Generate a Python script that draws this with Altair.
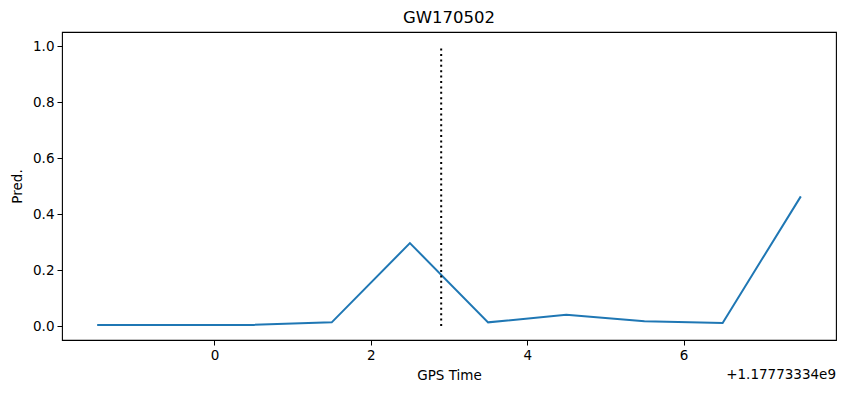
import altair as alt
import pandas as pd

# GPS time relative to offset 1.17773334e9
gps_time = [-1.5, -0.5, 0.5, 1.5, 2.5, 3.5, 4.5, 5.5, 6.5, 7.5]
pred = [0.004, 0.004, 0.004, 0.013, 0.296, 0.013, 0.040, 0.017, 0.011, 0.463]
event_time = [2.9]
x_ticks = [0, 2, 4, 6]
y_ticks = [0.0, 0.2, 0.4, 0.6, 0.8, 1.0]
offset_label = "+1.17773334e9"
title = "GW170502"

df = pd.DataFrame({"t": gps_time, "p": pred})
ev = pd.DataFrame({"t": event_time, "y0": [0.0], "y1": [1.0]})
off = pd.DataFrame({"label": [offset_label]})

FONT = "DejaVu Sans"
FS = 13.5

xscale = alt.Scale(domain=[-1.95, 7.95], nice=False, zero=False)
yscale = alt.Scale(domain=[-0.05, 1.05], nice=False, zero=False)

xaxis = alt.Axis(values=x_ticks, format="d", title="GPS Time", grid=False, domain=False,
                 tickColor="black", tickSize=5, labelPadding=3, labelFontSize=FS,
                 labelColor="black", labelFont=FONT, titleFont=FONT, titleFontSize=FS,
                 titleFontWeight="normal", titleColor="black", titlePadding=7,
                 labelFlush=False)
yaxis = alt.Axis(values=y_ticks, format=".1f", title="Pred.", grid=False, domain=False,
                 tickColor="black", tickSize=5, labelPadding=3, labelFontSize=FS,
                 labelColor="black", labelFont=FONT, titleFont=FONT, titleFontSize=FS,
                 titleFontWeight="normal", titleColor="black", titlePadding=8)

line = alt.Chart(df).mark_line(color="#1f77b4", strokeWidth=2).encode(
    x=alt.X("t:Q", scale=xscale, axis=xaxis),
    y=alt.Y("p:Q", scale=yscale, axis=yaxis),
)

rule = alt.Chart(ev).mark_rule(color="black", strokeWidth=2, strokeDash=[2, 3.4]).encode(
    x="t:Q", y="y0:Q", y2="y1:Q"
)

txt = alt.Chart(off).mark_text(align="right", baseline="middle", fontSize=FS,
                               font=FONT, color="black", clip=False).encode(
    text="label:N", x=alt.value(774), y=alt.value(343)
)

chart = alt.layer(line, rule, txt).properties(
    width=774, height=308,
    background="white",
    title=alt.TitleParams(title, font=FONT, fontSize=16.5, fontWeight="normal",
                          color="black", anchor="middle", offset=6),
    autosize=alt.AutoSizeParams(type="none"),
    padding={"left": 62, "top": 32, "right": 10, "bottom": 53},
).configure_view(stroke="black", strokeWidth=1.1)

chart.save("out.html", embed_options={"renderer": "svg", "actions": False})
